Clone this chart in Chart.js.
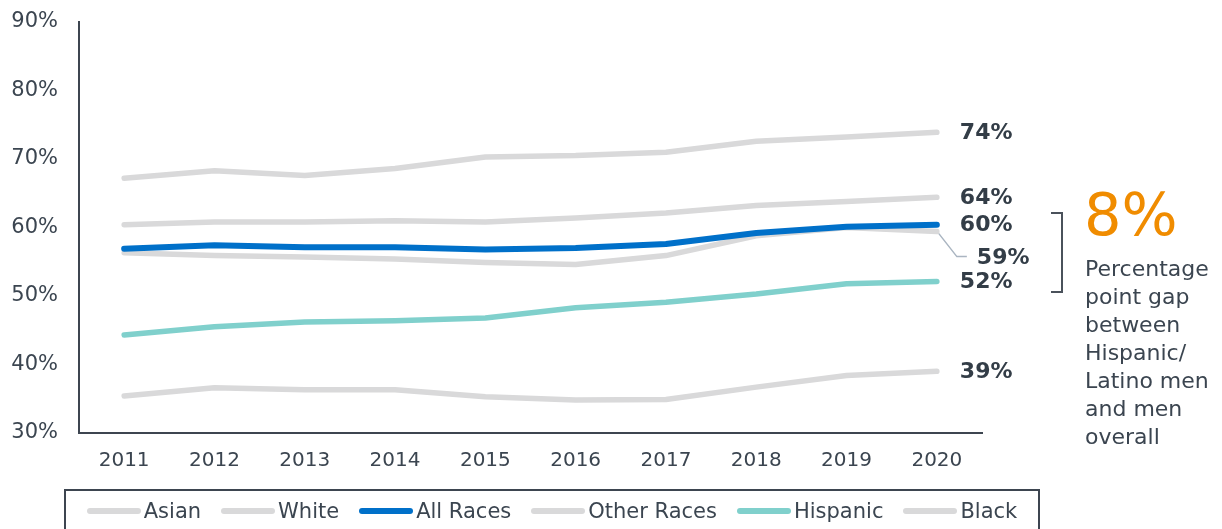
<!DOCTYPE html>
<html>
<head>
<meta charset="utf-8">
<script src="https://cdn.jsdelivr.net/npm/chart.js@4/dist/chart.umd.min.js"></script>
<style>
  html, body { margin: 0; padding: 0; background: #ffffff; }
  body { width: 1222px; height: 529px; position: relative; overflow: hidden; font-family: "DejaVu Sans", Verdana, sans-serif; color: #3b4550; }
  #wrap { position: absolute; left: 0; top: 0; width: 1222px; height: 529px; }
  #legend { position: absolute; left: 64px; top: 489px; width: 976px; height: 60px; border: 2px solid #3d4550; box-sizing: border-box;
            display: flex; justify-content: center; align-items: flex-start; padding-top: 8px; font-size: 21px; color: #3b4550; }
  .li { display: flex; align-items: center; margin: 0 10px; white-space: nowrap; }
  .sw { width: 54px; height: 6px; border-radius: 3px; margin-right: 3px; }
  #big { position: absolute; left: 1084px; top: 185px; font-size: 59px; line-height: 59px; color: #f08c00; }
  #para { position: absolute; left: 1085px; top: 255px; font-size: 22px; line-height: 28px; color: #3b4550; white-space: pre; }
  #bracket { position: absolute; left: 1051px; top: 212px; width: 10px; height: 77px; border: 2px solid #4a525b; border-left: none; }
</style>
</head>
<body>
<div id="wrap"><canvas id="c"></canvas></div>
<div id="bracket"></div>
<div id="big">8%</div>
<div id="para">Percentage
point gap
between
Hispanic/
Latino men
and men
overall</div>
<div id="legend"></div>
<script>
const years = ['2011','2012','2013','2014','2015','2016','2017','2018','2019','2020'];
const seriesNames = ['Asian','White','All Races','Other Races','Hispanic','Black'];
const asian      = [67.2, 68.3, 67.6, 68.6, 70.3, 70.5, 71.0, 72.6, 73.2, 73.9];
const white      = [60.4, 60.8, 60.8, 61.0, 60.8, 61.4, 62.1, 63.2, 63.8, 64.4];
const allRaces   = [56.9, 57.4, 57.1, 57.1, 56.8, 57.0, 57.6, 59.2, 60.1, 60.4];
const otherRaces = [56.3, 55.9, 55.7, 55.4, 54.9, 54.6, 55.9, 58.8, 60.0, 59.4];
const hispanic   = [44.3, 45.5, 46.2, 46.4, 46.8, 48.3, 49.1, 50.3, 51.8, 52.1];
const black      = [35.4, 36.6, 36.3, 36.3, 35.3, 34.8, 34.9, 36.7, 38.4, 39.0];
const yTicks = [30, 40, 50, 60, 70, 80, 90];

const GRAY = '#d9d9da', BLUE = '#0070c9', TEAL = '#80d0cc', TEXT = '#3b4550', AXIS = '#3d4550';
const seriesData = [asian, white, allRaces, otherRaces, hispanic, black];
const seriesColors = [GRAY, GRAY, BLUE, GRAY, TEAL, GRAY];
const seriesWidths = [5.5, 5.5, 6, 5.5, 5.5, 5.5];

Chart.defaults.font.family = '"DejaVu Sans", Verdana, sans-serif';
Chart.defaults.color = TEXT;

const endLabels = {
  id: 'endLabels',
  afterDatasetsDraw(chart) {
    const ctx = chart.ctx;
    ctx.save();
    ctx.font = 'bold 22px "DejaVu Sans", Verdana, sans-serif';
    ctx.fillStyle = '#333d47';
    ctx.textBaseline = 'middle';
    ctx.textAlign = 'left';
    chart.data.datasets.forEach((ds, i) => {
      const meta = chart.getDatasetMeta(i);
      const pt = meta.data[meta.data.length - 1];
      const txt = Math.round(ds.data[ds.data.length - 1]) + '%';
      if (ds.label === 'Other Races') {
        ctx.strokeStyle = '#aab5c1';
        ctx.lineWidth = 1.5;
        ctx.beginPath();
        ctx.moveTo(pt.x + 2, pt.y + 2);
        ctx.lineTo(pt.x + 20, pt.y + 25);
        ctx.lineTo(pt.x + 30, pt.y + 25);
        ctx.stroke();
        ctx.fillText(txt, pt.x + 40, pt.y + 27);
      } else {
        ctx.fillText(txt, pt.x + 23, pt.y + 1);
      }
    });
    ctx.restore();
  }
};

new Chart(document.getElementById('c'), {
  type: 'line',
  data: {
    labels: years,
    datasets: seriesNames.map((n, i) => ({
      label: n,
      data: seriesData[i],
      borderColor: seriesColors[i],
      backgroundColor: seriesColors[i],
      borderWidth: seriesWidths[i],
      borderCapStyle: 'round',
      borderJoinStyle: 'round',
      pointRadius: 0,
      pointHoverRadius: 0,
      tension: 0,
      fill: false
    }))
  },
  options: {
    responsive: true,
    maintainAspectRatio: false,
    animation: false,
    layout: { padding: { left: 0, top: 22, right: 240, bottom: 56 } },
    plugins: { legend: { display: false }, tooltip: { enabled: false } },
    scales: {
      x: {
        offset: true,
        grid: { display: false, drawTicks: false },
        border: { display: true, color: AXIS, width: 2 },
        ticks: { padding: 16, font: { size: 20 }, color: TEXT, maxRotation: 0 },
        afterFit(s) { s.height = 40; s.paddingLeft = 0; s.paddingRight = 0; }
      },
      y: {
        min: 30, max: 90,
        grid: { display: false, drawTicks: false },
        border: { display: true, color: AXIS, width: 2 },
        afterBuildTicks(s) { s.ticks = yTicks.map(v => ({ value: v })); },
        ticks: { padding: 21, font: { size: 21 }, color: TEXT, callback: v => v + '%' },
        afterFit(s) { s.width = 79; s.paddingTop = 0; s.paddingBottom = 0; }
      }
    }
  },
  plugins: [endLabels]
});

const lg = document.getElementById('legend');
seriesNames.forEach((n, i) => {
  const it = document.createElement('div');
  it.className = 'li';
  const sw = document.createElement('span');
  sw.className = 'sw';
  sw.style.background = seriesColors[i];
  const t = document.createElement('span');
  t.textContent = n;
  it.appendChild(sw); it.appendChild(t);
  lg.appendChild(it);
});
</script>
</body>
</html>
